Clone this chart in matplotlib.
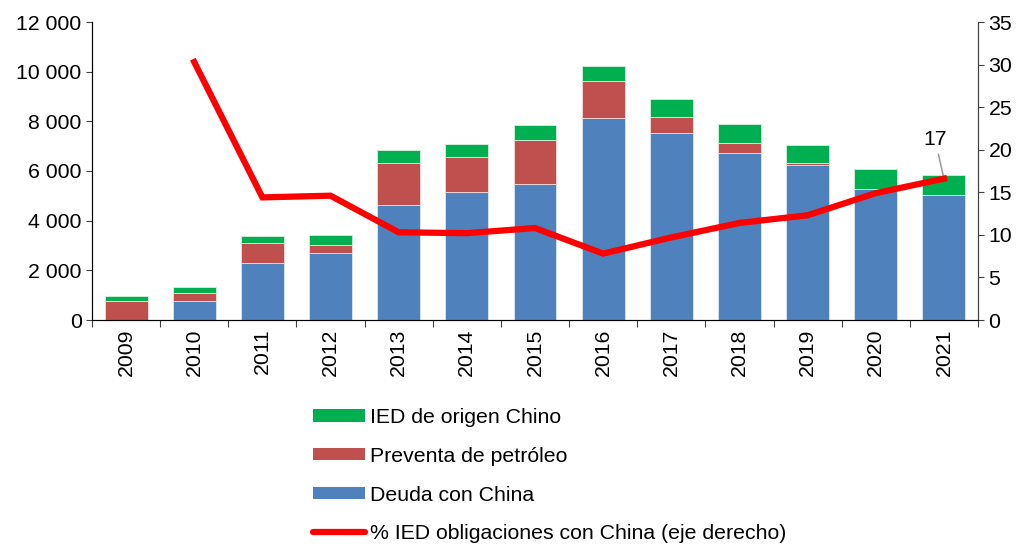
import matplotlib
matplotlib.use("Agg")
import matplotlib.pyplot as plt
import numpy as np
from matplotlib.patches import Patch
from matplotlib.lines import Line2D

plt.rcParams['font.family'] = ['Liberation Sans', 'DejaVu Sans']

years = ["2009", "2010", "2011", "2012", "2013", "2014", "2015", "2016",
         "2017", "2018", "2019", "2020", "2021"]
deuda = [0, 765, 2283, 2711, 4619, 5167, 5465, 8135, 7543, 6713, 6230, 5276, 5022]
preventa = [765, 310, 805, 298, 1716, 1385, 1784, 1478, 644, 403, 80, 0, 0]
ied = [215, 255, 306, 415, 499, 524, 592, 628, 713, 765, 737, 793, 805]
pct = [np.nan, 30.3, 14.4, 14.6, 10.3, 10.2, 10.8, 7.8, 9.7, 11.4, 12.3, 14.9, 16.6]

labels = ["IED de origen Chino", "Preventa de petróleo", "Deuda con China",
          "% IED obligaciones con China (eje derecho)"]

c_blue = "#4F81BD"
c_red = "#C0504D"
c_green = "#00B050"
c_line = "#FF0000"

fs = 15.3
fig = plt.figure(figsize=(10.21, 5.45), dpi=100)
ax = fig.add_axes([92/1021, 1-320/545, (978-92)/1021, (320-22)/545])
x = np.arange(len(years))
w = 0.63
d = np.array(deuda); p = np.array(preventa); g = np.array(ied)
ax.bar(x, d, w, color=c_blue, edgecolor="#dce6f2", linewidth=0.6, zorder=2)
ax.bar(x, p, w, bottom=d, color=c_red, edgecolor="#f2dcdb", linewidth=0.6, zorder=2)
ax.bar(x, g, w, bottom=d + p, color=c_green, edgecolor="#d8f0e0", linewidth=0.6, zorder=2)

ax.set_xlim(-0.5, len(years) - 0.5)
ax.set_ylim(0, 12000)
ax.set_yticks(np.arange(0, 12001, 2000))
ax.set_yticklabels([f"{v:,}".replace(",", " ") for v in range(0, 12001, 2000)], fontsize=fs)
ax.set_xticks(np.arange(-0.5, len(years), 1), minor=False)
ax.set_xticklabels([])
ax.set_xticks(x, minor=True)
ax.set_xticklabels(years, minor=True, rotation=90, fontsize=fs)
ax.tick_params(axis='x', which='minor', length=0, pad=6)
ax.tick_params(axis='x', which='major', length=5, direction='out', color='#404040')
ax.tick_params(axis='y', length=4, direction='out', color='#404040')
ax.spines['top'].set_visible(False)
for s in ['left', 'bottom', 'right']:
    ax.spines[s].set_color('#404040')

ax2 = ax.twinx()
ax2.plot(x, pct, color=c_line, linewidth=4.5, solid_joinstyle='miter', zorder=5)
ax2.set_ylim(0, 35)
ax2.set_yticks(np.arange(0, 36, 5))
ax2.set_yticklabels([str(v) for v in range(0, 36, 5)], fontsize=fs)
ax2.tick_params(axis='y', length=4, direction='out', color='#404040')
ax2.spines['top'].set_visible(False)
ax2.spines['right'].set_color('#404040')

ax2.annotate("17", xy=(x[-1], pct[-1]), xytext=(x[-1] - 0.13, 20.1),
             fontsize=fs, ha='center', va='bottom',
             arrowprops=dict(arrowstyle='-', color='#a0a0a0', lw=1.2,
                             shrinkA=2, shrinkB=0))

handles = [Patch(facecolor=c_green), Patch(facecolor=c_red), Patch(facecolor=c_blue),
           Line2D([0], [0], color=c_line, linewidth=4.5, solid_capstyle='round')]
fig.legend(handles, labels, loc='upper left', bbox_to_anchor=(313/1021, 1-408/545),
           frameon=False, fontsize=fs, handlelength=2.45, handleheight=0.5,
           labelspacing=0.93, handletextpad=0.22, borderpad=0, borderaxespad=0)

fig.savefig("out.png", dpi=100)
